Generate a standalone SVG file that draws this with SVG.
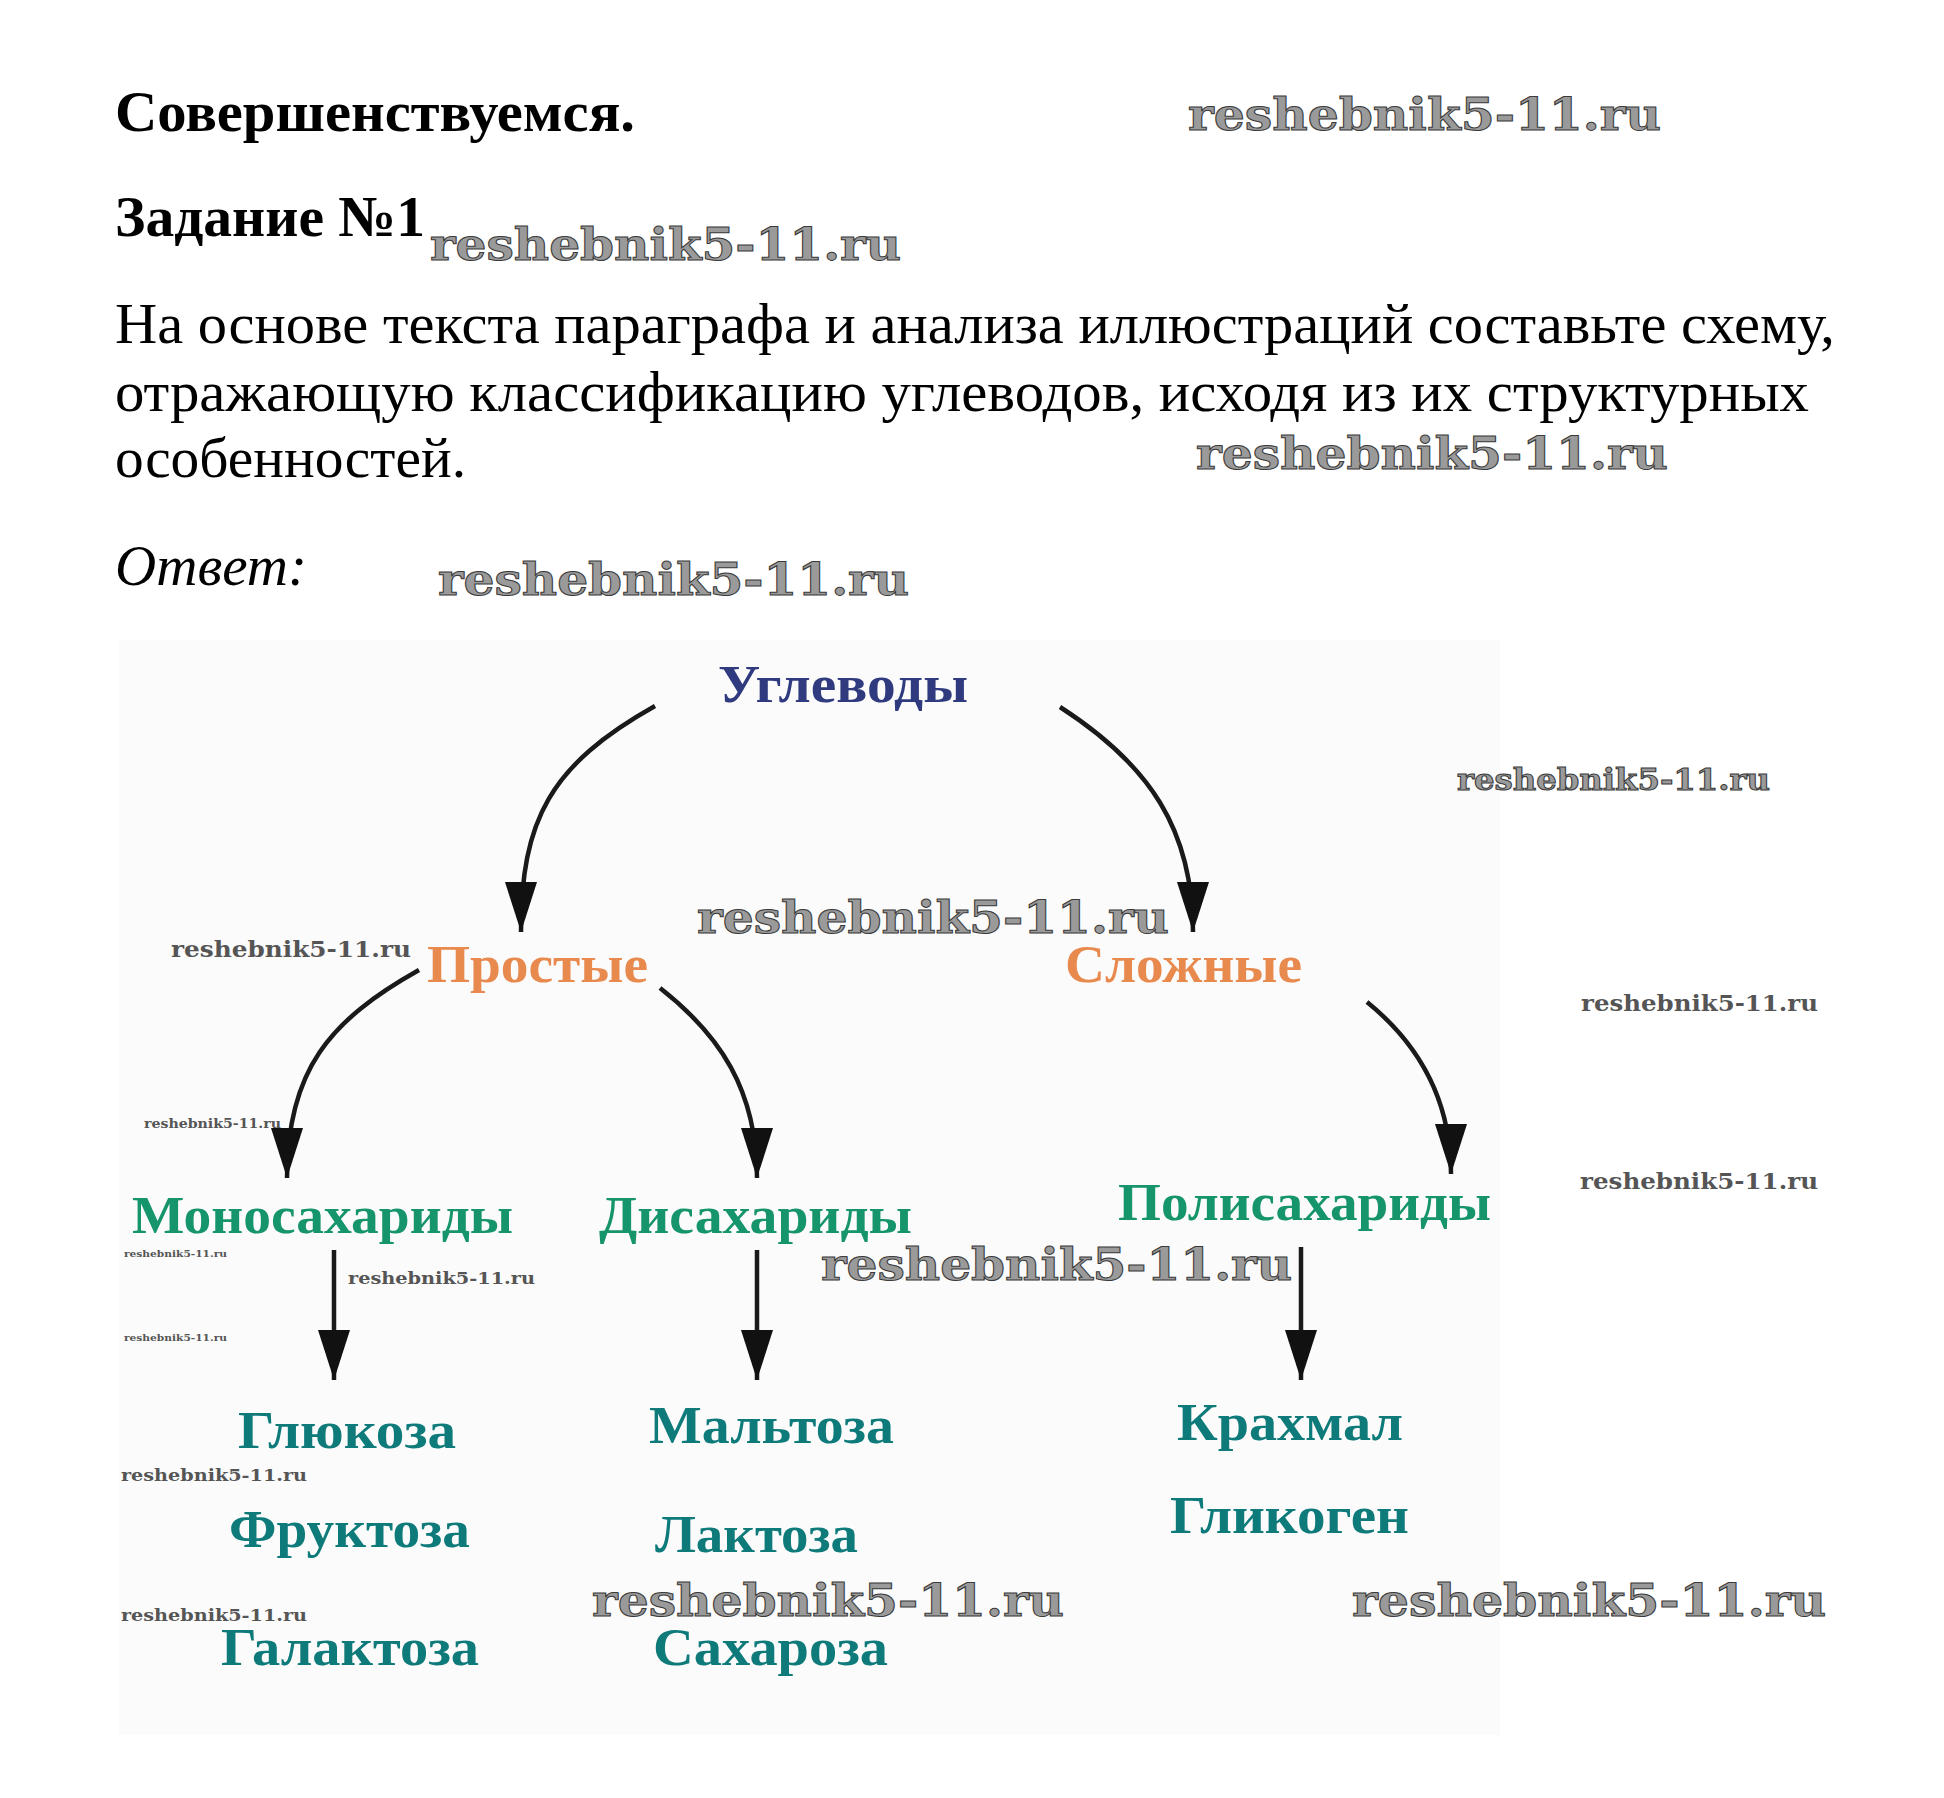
<svg xmlns="http://www.w3.org/2000/svg" width="1944" height="1798" viewBox="0 0 1944 1798">
<defs>
<style>
.hd{font-family:"Liberation Serif","Times New Roman",serif;font-weight:bold;font-size:58px;fill:#000}
.bd{font-family:"Liberation Serif","Times New Roman",serif;font-size:57px;fill:#000}
.it{font-family:"Liberation Serif","Times New Roman",serif;font-style:italic;font-size:57px;fill:#000}
.nd{font-family:"Liberation Serif","Times New Roman",serif;font-weight:bold;font-size:52px}
.root{fill:#2f3b7e}
.cls{fill:#e8894e}
.grp{fill:#16946c}
.leaf{fill:#0e7a7a}
.wm{font-family:"DejaVu Serif",serif;font-weight:bold;fill:#9a9a9a;stroke:#3a3a3a;stroke-width:1}
.ws{font-family:"DejaVu Serif",serif;font-weight:bold;fill:#555}
.edge{fill:none;stroke:#1a1a1a;stroke-width:4.5}
</style>
<marker id="ah" viewBox="0 0 50 32" refX="50" refY="16" markerWidth="50" markerHeight="32" markerUnits="userSpaceOnUse" orient="auto">
<path d="M0,0 L50,16 L0,32 z" fill="#111"/>
</marker>
</defs>
<rect x="0" y="0" width="1944" height="1798" fill="#ffffff"/>
<g id="header">
<text class="hd" x="115" y="131" textLength="520" lengthAdjust="spacingAndGlyphs">Совершенствуемся.</text>
<text class="hd" x="115" y="236" textLength="310" lengthAdjust="spacingAndGlyphs">Задание №1</text>
<text class="bd" x="115" y="343" textLength="1720" lengthAdjust="spacingAndGlyphs">На основе текста параграфа и анализа иллюстраций составьте схему,</text>
<text class="bd" x="115" y="411" textLength="1694" lengthAdjust="spacingAndGlyphs">отражающую классификацию углеводов, исходя из их структурных</text>
<text class="bd" x="115" y="477" textLength="351" lengthAdjust="spacingAndGlyphs">особенностей.</text>
<text class="it" x="115" y="585" textLength="192" lengthAdjust="spacingAndGlyphs">Ответ:</text>
</g>
<rect id="diagram-bg" x="119" y="640" width="1381" height="1095" fill="#fbfbfb"/>
<g id="connectors">
<path class="edge" d="M655,706 C550,765 521,820 521,932" marker-end="url(#ah)"/>
<path class="edge" d="M1060,707 C1150,765 1193,830 1193,932" marker-end="url(#ah)"/>
<path class="edge" d="M419,970 C330,1020 287,1070 287,1178" marker-end="url(#ah)"/>
<path class="edge" d="M660,988 C720,1035 757,1090 757,1178" marker-end="url(#ah)"/>
<path class="edge" d="M1367,1002 C1420,1045 1451,1100 1451,1174" marker-end="url(#ah)"/>
<path class="edge" d="M334,1250 L334,1380" marker-end="url(#ah)"/>
<path class="edge" d="M757,1250 L757,1380" marker-end="url(#ah)"/>
<path class="edge" d="M1301,1247 L1301,1380" marker-end="url(#ah)"/>
</g>
<g id="node-uglevody"><text class="nd root" x="718" y="702" font-size="56" textLength="250" lengthAdjust="spacingAndGlyphs">Углеводы</text></g>
<g id="node-prostye"><text class="nd cls" x="427" y="982" textLength="221" lengthAdjust="spacingAndGlyphs">Простые</text></g>
<g id="node-slozhnye"><text class="nd cls" x="1065" y="982" textLength="237" lengthAdjust="spacingAndGlyphs">Сложные</text></g>
<g id="node-mono"><text class="nd grp" x="132" y="1233" textLength="381" lengthAdjust="spacingAndGlyphs">Моносахариды</text></g>
<g id="node-di"><text class="nd grp" x="599" y="1233" textLength="313" lengthAdjust="spacingAndGlyphs">Дисахариды</text></g>
<g id="node-poli"><text class="nd grp" x="1118" y="1220" textLength="373" lengthAdjust="spacingAndGlyphs">Полисахариды</text></g>
<g id="node-mono-list">
<text class="nd leaf" x="238" y="1448" textLength="218" lengthAdjust="spacingAndGlyphs">Глюкоза</text>
<text class="nd leaf" x="229" y="1547" textLength="241" lengthAdjust="spacingAndGlyphs">Фруктоза</text>
<text class="nd leaf" x="221" y="1665" textLength="258" lengthAdjust="spacingAndGlyphs">Галактоза</text>
</g>
<g id="node-di-list">
<text class="nd leaf" x="649" y="1443" textLength="245" lengthAdjust="spacingAndGlyphs">Мальтоза</text>
<text class="nd leaf" x="655" y="1552" textLength="203" lengthAdjust="spacingAndGlyphs">Лактоза</text>
<text class="nd leaf" x="653" y="1665" textLength="235" lengthAdjust="spacingAndGlyphs">Сахароза</text>
</g>
<g id="node-poli-list">
<text class="nd leaf" x="1177" y="1440" textLength="226" lengthAdjust="spacingAndGlyphs">Крахмал</text>
<text class="nd leaf" x="1170" y="1533" textLength="239" lengthAdjust="spacingAndGlyphs">Гликоген</text>
</g>
<g id="watermarks">
<text class="wm" x="1188" y="130" font-size="44" textLength="473" lengthAdjust="spacingAndGlyphs">reshebnik5-11.ru</text>
<text class="wm" x="430" y="260" font-size="44" textLength="471" lengthAdjust="spacingAndGlyphs">reshebnik5-11.ru</text>
<text class="wm" x="1196" y="469" font-size="44" textLength="472" lengthAdjust="spacingAndGlyphs">reshebnik5-11.ru</text>
<text class="wm" x="438" y="595" font-size="44" textLength="471" lengthAdjust="spacingAndGlyphs">reshebnik5-11.ru</text>
<text class="wm" x="1457" y="790" font-size="29" stroke-width="0.7" textLength="313" lengthAdjust="spacingAndGlyphs">reshebnik5-11.ru</text>
<text class="wm" x="697" y="933" font-size="44" textLength="472" lengthAdjust="spacingAndGlyphs">reshebnik5-11.ru</text>
<text class="ws" x="171" y="957" font-size="22" textLength="240" lengthAdjust="spacingAndGlyphs">reshebnik5-11.ru</text>
<text class="ws" x="1581" y="1011" font-size="22" textLength="237" lengthAdjust="spacingAndGlyphs">reshebnik5-11.ru</text>
<text class="ws" x="144" y="1128" font-size="13" textLength="137" lengthAdjust="spacingAndGlyphs">reshebnik5-11.ru</text>
<text class="ws" x="1580" y="1189" font-size="22" textLength="238" lengthAdjust="spacingAndGlyphs">reshebnik5-11.ru</text>
<text class="ws" x="124" y="1257" font-size="10" textLength="103" lengthAdjust="spacingAndGlyphs">reshebnik5-11.ru</text>
<text class="ws" x="348" y="1284" font-size="17" textLength="187" lengthAdjust="spacingAndGlyphs">reshebnik5-11.ru</text>
<text class="ws" x="124" y="1341" font-size="10" textLength="103" lengthAdjust="spacingAndGlyphs">reshebnik5-11.ru</text>
<text class="wm" x="821" y="1280" font-size="44" textLength="471" lengthAdjust="spacingAndGlyphs">reshebnik5-11.ru</text>
<text class="ws" x="121" y="1481" font-size="17" textLength="186" lengthAdjust="spacingAndGlyphs">reshebnik5-11.ru</text>
<text class="ws" x="121" y="1621" font-size="17" textLength="186" lengthAdjust="spacingAndGlyphs">reshebnik5-11.ru</text>
<text class="wm" x="592" y="1616" font-size="44" textLength="472" lengthAdjust="spacingAndGlyphs">reshebnik5-11.ru</text>
<text class="wm" x="1352" y="1616" font-size="44" textLength="474" lengthAdjust="spacingAndGlyphs">reshebnik5-11.ru</text>
</g>
</svg>
